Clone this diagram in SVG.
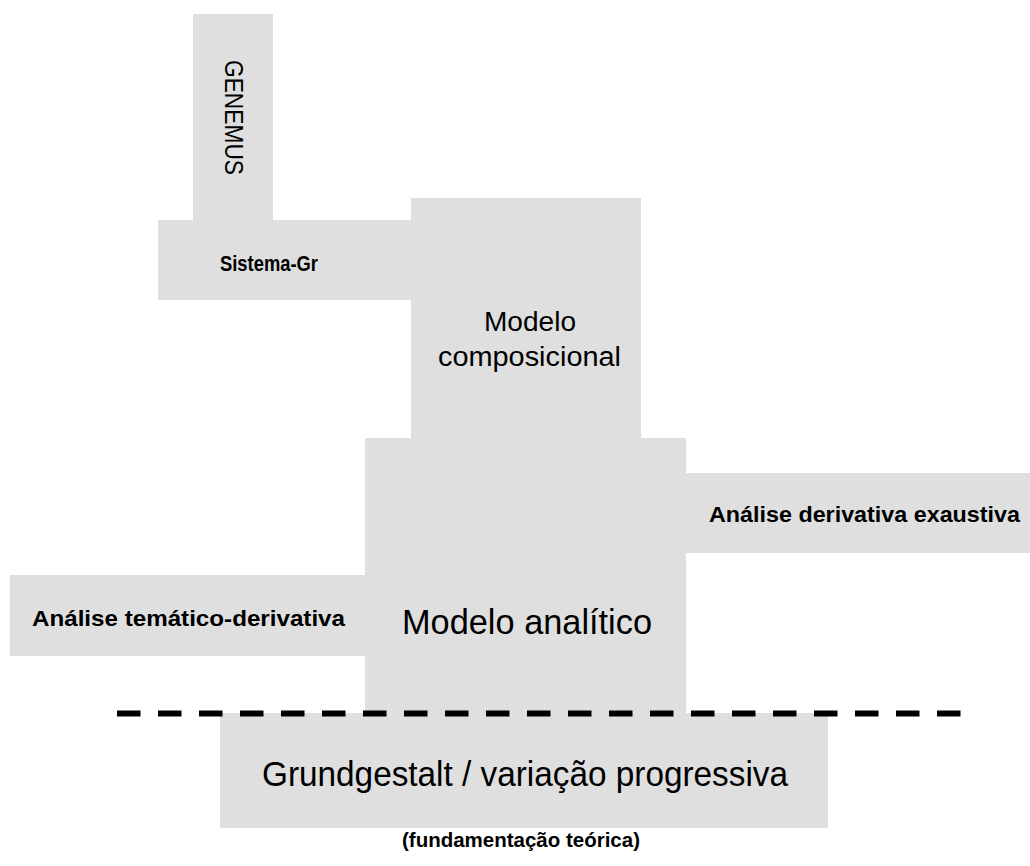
<svg xmlns="http://www.w3.org/2000/svg" width="1030" height="866" viewBox="0 0 1030 866">
  <style>
    .block { fill: #dfdfdf; }
    .lbl { font-family: "Liberation Sans", Arial, sans-serif; fill: #000; }
    .b { font-weight: bold; }
    .mid { text-anchor: middle; }
    .divider { stroke: #000; stroke-width: 6; stroke-dasharray: 23.5 17.5; fill: none; }
  </style>
  <rect width="1030" height="866" fill="#fff"/>

  <!-- stacked blocks -->
  <g id="genemus">
    <rect class="block" x="193" y="14" width="80" height="207"/>
    <text class="lbl" font-size="25" transform="translate(225 60) rotate(90)" textLength="115" lengthAdjust="spacingAndGlyphs">GENEMUS</text>
  </g>
  <g id="sistema-gr">
    <rect class="block" x="158" y="220" width="254" height="80"/>
    <text class="lbl b" font-size="22" x="220" y="271" textLength="98" lengthAdjust="spacingAndGlyphs">Sistema-Gr</text>
  </g>
  <g id="modelo-composicional">
    <rect class="block" x="411" y="198" width="230" height="241"/>
    <text class="lbl mid" font-size="27" x="530" y="331" textLength="92" lengthAdjust="spacingAndGlyphs">Modelo</text>
    <text class="lbl mid" font-size="27" x="529.5" y="366" textLength="183" lengthAdjust="spacingAndGlyphs">composicional</text>
  </g>
  <g id="modelo-analitico">
    <rect class="block" x="365" y="438" width="321" height="276"/>
    <text class="lbl mid" font-size="35" x="527" y="634" textLength="250" lengthAdjust="spacingAndGlyphs">Modelo analítico</text>
  </g>
  <g id="analise-derivativa-exaustiva">
    <rect class="block" x="685" y="473" width="345" height="80"/>
    <text class="lbl b" font-size="22" x="709" y="522" textLength="311" lengthAdjust="spacingAndGlyphs">Análise derivativa exaustiva</text>
  </g>
  <g id="analise-tematico-derivativa">
    <rect class="block" x="10" y="575" width="356" height="81"/>
    <text class="lbl b" font-size="22" x="32" y="626" textLength="313" lengthAdjust="spacingAndGlyphs">Análise temático-derivativa</text>
  </g>
  <g id="grundgestalt">
    <rect class="block" x="220" y="713" width="608" height="115"/>
    <text class="lbl mid" font-size="35" x="525" y="786" textLength="526" lengthAdjust="spacingAndGlyphs">Grundgestalt / variação progressiva</text>
  </g>

  <!-- boundary between the models and their theoretical base -->
  <g id="connectors">
    <line class="divider" x1="117" y1="713.5" x2="962" y2="713.5"/>
  </g>

  <g id="fundamentacao">
    <text class="lbl b mid" font-size="21" x="521" y="847" textLength="238" lengthAdjust="spacingAndGlyphs">(fundamentação teórica)</text>
  </g>
</svg>
